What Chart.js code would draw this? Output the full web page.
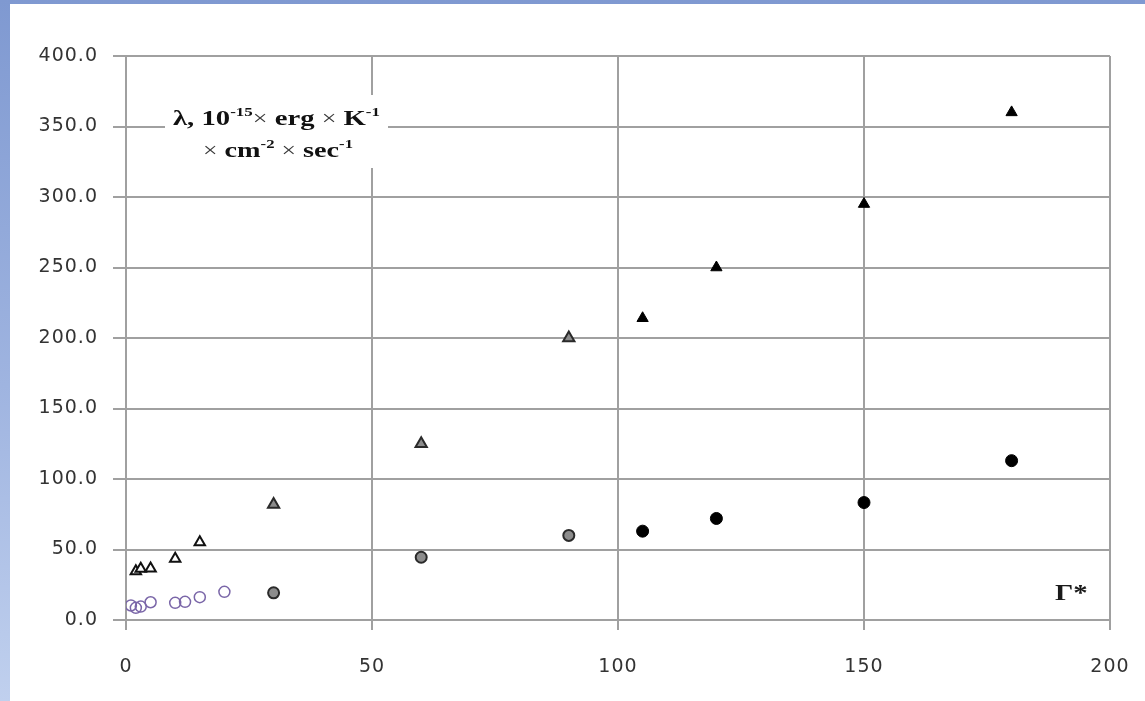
<!DOCTYPE html>
<html>
<head>
<meta charset="utf-8">
<script src="https://cdn.jsdelivr.net/npm/chart.js@4.4.1/dist/chart.umd.min.js"></script>
<style>
  html, body { margin: 0; padding: 0; width: 1145px; height: 701px; overflow: hidden; }
  body { background: linear-gradient(to bottom, #7f99d1 0%, #9fb4e0 55%, #c0d0ee 100%); position: relative; }
  #paper { position: absolute; left: 10px; top: 4px; right: 0; bottom: 0; background: #ffffff; }
  #c { position: absolute; left: 0; top: 0; }
</style>
</head>
<body>
<div id="paper"></div>
<canvas id="c" width="1145" height="701" style="width:1145px;height:701px"></canvas>
<script>
// ---- data ----
const xTicks = [0, 50, 100, 150, 200];
const yTicks = [0, 50, 100, 150, 200, 250, 300, 350, 400];

const openTriX = [2, 3, 5, 10, 15];
const openTriY = [34.5, 36.3, 36.5, 43.5, 55.2];

const greyTriX = [30, 60, 90];
const greyTriY = [82, 125, 200];

const blackTriX = [105, 120, 150, 180];
const blackTriY = [214, 250, 295, 360];

const openCircX = [1, 2, 3, 5, 10, 12, 15, 20];
const openCircY = [10.3, 8.6, 9.5, 12.6, 12.2, 12.9, 16.2, 20];

const greyCircX = [30, 60, 90];
const greyCircY = [19.3, 44.5, 60];

const blackCircX = [105, 120, 150, 180];
const blackCircY = [63, 72, 83.3, 113];

const boxLine1 = [
  { t: 'λ, 10', bold: true, size: 22, dy: 0 },
  { t: '-15', bold: true, size: 13, dy: -9 },
  { t: '×', bold: false, size: 20, dy: 0 },
  { t: ' erg ', bold: true, size: 22, dy: 0 },
  { t: '×', bold: false, size: 20, dy: 0 },
  { t: ' K', bold: true, size: 22, dy: 0 },
  { t: '-1', bold: true, size: 13, dy: -9 }
];
const boxLine2 = [
  { t: '×', bold: false, size: 20, dy: 0 },
  { t: ' cm', bold: true, size: 22, dy: 0 },
  { t: '-2', bold: true, size: 13, dy: -9 },
  { t: ' ', bold: true, size: 22, dy: 0 },
  { t: '×', bold: false, size: 20, dy: 0 },
  { t: ' sec', bold: true, size: 22, dy: 0 },
  { t: '-1', bold: true, size: 13, dy: -9 }
];
const xAxisName = 'Γ*';

function pts(xs, ys) { return xs.map((x, i) => ({ x: x, y: ys[i] })); }

const GRID = '#a0a0a0';
const TICKFONT = { family: 'DejaVu Sans', size: 19 };

function drawRuns(ctx, runs, x, baseline, targetW) {
  let w = 0;
  runs.forEach(r => {
    ctx.font = (r.bold ? 'bold ' : '') + r.size + 'px "Liberation Serif", "Times New Roman", serif';
    w += ctx.measureText(r.t).width;
  });
  const sx = targetW / w;
  ctx.save();
  ctx.translate(x, baseline);
  ctx.scale(sx, 1);
  let cx = 0;
  runs.forEach(r => {
    ctx.font = (r.bold ? 'bold ' : '') + r.size + 'px "Liberation Serif", "Times New Roman", serif';
    ctx.fillStyle = r.bold ? '#111' : '#3a3a3a';
    ctx.fillText(r.t, cx, r.dy);
    cx += ctx.measureText(r.t).width;
  });
  ctx.restore();
}

const spacingPlugin = {
  id: 'spacing',
  beforeDraw(chart) { chart.ctx.letterSpacing = '1px'; }
};

const annotPlugin = {
  id: 'annot',
  afterDraw(chart) {
    const ctx = chart.ctx;
    ctx.save();
    ctx.letterSpacing = '0px';
    ctx.textBaseline = 'alphabetic';
    ctx.textAlign = 'left';
    // white label box over the grid
    ctx.fillStyle = '#ffffff';
    ctx.fillRect(165, 95, 223, 73);
    drawRuns(ctx, boxLine1, 173, 125, 207);
    drawRuns(ctx, boxLine2, 203, 157, 150);
    // axis name
    ctx.save();
    ctx.translate(1055, 600);
    ctx.scale(1.25, 1);
    ctx.font = 'bold 23px "Liberation Serif", "Times New Roman", serif';
    ctx.fillStyle = '#1a1a1a';
    ctx.fillText(xAxisName, 0, 0);
    ctx.restore();
    ctx.restore();
  }
};

new Chart(document.getElementById('c'), {
  type: 'scatter',
  data: {
    datasets: [
      { label: 'open triangles', data: pts(openTriX, openTriY), pointStyle: 'triangle',
        pointRadius: 6, pointBorderWidth: 2, pointBackgroundColor: '#ffffff', pointBorderColor: '#111111' },
      { label: 'grey triangles', data: pts(greyTriX, greyTriY), pointStyle: 'triangle',
        pointRadius: 6.5, pointBorderWidth: 2, pointBackgroundColor: '#8c8c8c', pointBorderColor: '#2a2a2a' },
      { label: 'black triangles', data: pts(blackTriX, blackTriY), pointStyle: 'triangle',
        pointRadius: 6.5, pointBorderWidth: 1, pointBackgroundColor: '#000000', pointBorderColor: '#000000' },
      { label: 'open circles', data: pts(openCircX, openCircY), pointStyle: 'circle',
        pointRadius: 5.5, pointBorderWidth: 1.5, pointBackgroundColor: 'rgba(255,255,255,0)', pointBorderColor: '#7a66a8' },
      { label: 'grey circles', data: pts(greyCircX, greyCircY), pointStyle: 'circle',
        pointRadius: 5.5, pointBorderWidth: 2, pointBackgroundColor: '#8c8c8c', pointBorderColor: '#2a2a2a' },
      { label: 'black circles', data: pts(blackCircX, blackCircY), pointStyle: 'circle',
        pointRadius: 6, pointBorderWidth: 1, pointBackgroundColor: '#000000', pointBorderColor: '#000000' }
    ]
  },
  options: {
    responsive: false,
    animation: false,
    devicePixelRatio: 1,
    layout: { padding: { top: 56, right: 35, bottom: 20, left: 0 } },
    plugins: { legend: { display: false }, tooltip: { enabled: false } },
    scales: {
      x: {
        type: 'linear', min: xTicks[0], max: xTicks[xTicks.length - 1],
        afterBuildTicks(s) { s.ticks = xTicks.map(v => ({ value: v })); },
        afterFit(s) { s.height = 61; s.paddingLeft = 0; s.paddingRight = 0; },
        ticks: { font: TICKFONT, color: '#333333', padding: 26, maxRotation: 0, callback: v => String(v) },
        grid: { color: GRID, lineWidth: 2, tickLength: 10, tickColor: GRID },
        border: { color: GRID, width: 2 }
      },
      y: {
        type: 'linear', min: yTicks[0], max: yTicks[yTicks.length - 1],
        afterBuildTicks(s) { s.ticks = yTicks.map(v => ({ value: v })); },
        afterFit(s) { s.width = 126; s.paddingTop = 0; s.paddingBottom = 0; },
        ticks: { font: TICKFONT, color: '#333333', padding: 15, callback: v => Number(v).toFixed(1) },
        grid: { color: GRID, lineWidth: 2, tickLength: 13, tickColor: GRID },
        border: { color: GRID, width: 2 }
      }
    }
  },
  plugins: [spacingPlugin, annotPlugin]
});
</script>
</body>
</html>
